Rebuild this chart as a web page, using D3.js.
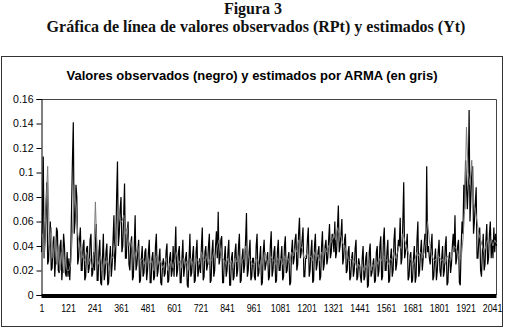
<!DOCTYPE html>
<html><head><meta charset="utf-8">
<script src="https://cdn.jsdelivr.net/npm/d3@7"></script>
<style>
html,body{margin:0;padding:0;background:#fff;}
svg{display:block;}
</style></head>
<body>
<script>
// ---- data ----
const figTitle = "Figura 3";
const figSubtitle = "Gráfica de línea de valores observados (RPt) y estimados (Yt)";
const chartTitle = "Valores observados (negro) y estimados por ARMA (en gris)";
const xTickLabels = [1,121,241,361,481,601,721,841,961,1081,1201,1321,1441,1561,1681,1801,1921,2041];
const yTickValues = [0,0.02,0.04,0.06,0.08,0.1,0.12,0.14,0.16];
const nObs = 2061;
// observed (black), one reading every 4 observations starting at t=1
const observed = [
0.035,0.06,0.113,0.03,0.045,0.07,0.092,0.025,0.028,0.05,0.06,0.02,0.022,0.04,0.048,0.015,0.03,0.055,0.052,0.02,0.018,0.04,0.045,0.012,0.025,0.05,0.04,0.018,0.015,0.035,
0.015,0.03,0.012,0.03,0.07,0.109,0.141,0.05,0.06,0.09,0.08,0.025,0.03,0.045,0.055,0.02,0.02,0.04,0.045,0.012,0.015,0.038,0.04,0.018,0.022,0.045,0.05,0.015,0.018,0.035,
0.02,0.04,0.058,0.012,0.012,0.035,0.045,0.01,0.008,0.03,0.05,0.012,0.018,0.035,0.042,0.008,0.01,0.03,0.04,0.015,0.025,0.045,0.065,0.02,0.035,0.08,0.109,0.04,0.05,0.07,
0.08,0.035,0.04,0.065,0.091,0.03,0.03,0.05,0.06,0.025,0.02,0.04,0.048,0.012,0.015,0.04,0.065,0.02,0.025,0.035,0.045,0.01,0.012,0.03,0.04,0.015,0.018,0.035,0.038,0.012,
0.02,0.035,0.045,0.01,0.01,0.03,0.035,0.012,0.015,0.04,0.05,0.015,0.02,0.03,0.038,0.01,0.008,0.025,0.03,0.015,0.018,0.035,0.042,0.01,0.012,0.03,0.035,0.015,0.02,0.04,
0.015,0.035,0.056,0.015,0.02,0.035,0.04,0.01,0.01,0.03,0.045,0.015,0.022,0.03,0.035,0.008,0.006,0.03,0.05,0.015,0.018,0.032,0.04,0.01,0.012,0.035,0.045,0.015,0.02,0.03,
0.018,0.04,0.055,0.012,0.015,0.035,0.04,0.02,0.025,0.04,0.05,0.01,0.012,0.035,0.045,0.015,0.02,0.04,0.052,0.03,0.068,0.025,0.03,0.045,0.048,0.01,0.01,0.03,0.04,0.015,
0.02,0.035,0.045,0.008,0.008,0.03,0.035,0.012,0.015,0.035,0.042,0.015,0.02,0.04,0.05,0.01,0.012,0.03,0.038,0.018,0.025,0.045,0.067,0.015,0.02,0.035,0.045,0.012,0.015,0.03,
0.03,0.015,0.012,0.04,0.05,0.015,0.018,0.03,0.04,0.008,0.01,0.035,0.045,0.02,0.025,0.03,0.035,0.012,0.015,0.04,0.052,0.015,0.02,0.035,0.04,0.01,0.012,0.035,0.045,0.02,
0.02,0.03,0.04,0.012,0.015,0.04,0.048,0.018,0.02,0.03,0.035,0.008,0.01,0.035,0.045,0.025,0.03,0.045,0.05,0.02,0.025,0.05,0.063,0.03,0.035,0.045,0.055,0.015,0.015,0.03,
0.03,0.045,0.055,0.015,0.02,0.035,0.045,0.01,0.012,0.04,0.05,0.02,0.025,0.035,0.04,0.012,0.015,0.04,0.052,0.02,0.025,0.04,0.045,0.025,0.03,0.045,0.058,0.03,0.035,0.05,
0.045,0.035,0.06,0.03,0.035,0.055,0.073,0.035,0.04,0.05,0.062,0.025,0.03,0.045,0.05,0.018,0.02,0.035,0.04,0.012,0.015,0.03,0.035,0.015,0.02,0.038,0.045,0.012,0.015,0.03,
0.025,0.015,0.01,0.03,0.04,0.012,0.015,0.03,0.035,0.006,0.008,0.035,0.042,0.015,0.018,0.025,0.03,0.01,0.012,0.035,0.04,0.015,0.02,0.04,0.048,0.012,0.015,0.045,0.055,0.02,
0.02,0.035,0.045,0.01,0.012,0.03,0.038,0.015,0.02,0.045,0.055,0.02,0.025,0.035,0.045,0.04,0.063,0.025,0.03,0.06,0.092,0.03,0.035,0.04,0.05,0.012,0.015,0.03,0.035,0.01,
0.012,0.03,0.04,0.01,0.015,0.045,0.06,0.015,0.02,0.035,0.045,0.02,0.03,0.04,0.05,0.03,0.105,0.035,0.04,0.03,0.025,0.04,0.05,0.012,0.015,0.03,0.038,0.012,0.02,0.035,
0.045,0.02,0.015,0.03,0.04,0.015,0.02,0.04,0.048,0.008,0.01,0.03,0.035,0.018,0.025,0.04,0.05,0.035,0.065,0.025,0.03,0.04,0.045,0.01,0.008,0.04,0.06,0.05,0.09,0.07,
0.11,0.09,0.07,0.09,0.151,0.06,0.08,0.1,0.105,0.05,0.06,0.075,0.088,0.03,0.03,0.045,0.055,0.02,0.015,0.035,0.05,0.02,0.025,0.045,0.058,0.025,0.03,0.05,0.06,0.03,
0.045,0.03,0.055,0.035,0.05,0.04
];
// estimated by ARMA (grey), one reading every 8 observations starting at t=5
const estimated = [
0.05,0.03,0.07,0.105,0.04,0.055,0.03,0.045,0.025,0.04,0.02,0.035,0.018,0.03,0.02,
0.02,0.025,0.05,0.09,0.07,0.05,0.04,0.035,0.03,0.028,0.035,0.025,0.03,0.022,0.028,
0.076,0.03,0.025,0.032,0.02,0.03,0.025,0.028,0.02,0.032,0.03,0.04,0.05,0.07,0.06,
0.06,0.065,0.05,0.055,0.04,0.045,0.035,0.03,0.035,0.04,0.03,0.028,0.03,0.025,0.028,
0.03,0.025,0.028,0.02,0.03,0.032,0.025,0.028,0.022,0.025,0.03,0.02,0.025,0.028,0.022,
0.03,0.035,0.025,0.028,0.022,0.03,0.025,0.028,0.02,0.03,0.026,0.024,0.03,0.028,0.025,
0.035,0.03,0.028,0.032,0.025,0.03,0.028,0.035,0.03,0.04,0.045,0.035,0.03,0.028,0.025,
0.03,0.025,0.028,0.022,0.03,0.027,0.032,0.025,0.028,0.03,0.04,0.035,0.03,0.028,0.025,
0.025,0.03,0.028,0.022,0.03,0.025,0.035,0.028,0.025,0.032,0.03,0.028,0.025,0.03,0.028,
0.03,0.025,0.032,0.028,0.03,0.026,0.035,0.032,0.038,0.035,0.045,0.04,0.038,0.03,0.032,
0.035,0.03,0.032,0.028,0.035,0.03,0.033,0.028,0.035,0.032,0.038,0.035,0.04,0.042,0.045,
0.05,0.045,0.055,0.05,0.048,0.042,0.04,0.035,0.03,0.028,0.03,0.025,0.028,0.022,0.025,
0.022,0.025,0.02,0.024,0.022,0.026,0.02,0.025,0.022,0.028,0.025,0.03,0.028,0.032,0.03,
0.028,0.025,0.03,0.028,0.035,0.03,0.035,0.04,0.038,0.05,0.045,0.04,0.035,0.03,0.028,
0.025,0.03,0.035,0.032,0.035,0.03,0.035,0.045,0.06,0.045,0.035,0.03,0.028,0.03,0.032,
0.03,0.028,0.03,0.025,0.032,0.03,0.028,0.035,0.04,0.038,0.035,0.03,0.03,0.045,0.07,
0.137,0.1,0.09,0.11,0.075,0.07,0.06,0.05,0.045,0.04,0.035,0.04,0.045,0.04,0.045,
0.04,0.045,0.042
];
const obsStart = 1, obsStep = 4, estStart = 5, estStep = 8;

// ---- drawing ----
const W = 506, H = 331;
const svg = d3.select("body").append("svg").attr("width", W).attr("height", H);

const serif = "'Liberation Serif','Times New Roman',serif";
const sans = "'Liberation Sans',Arial,sans-serif";

svg.append("text").attr("x", 253).attr("y", 14).attr("text-anchor","middle")
  .attr("font-family", serif).attr("font-weight","bold").attr("font-size", 16)
  .attr("fill","#111").text(figTitle);
svg.append("text").attr("x", 256).attr("y", 32).attr("text-anchor","middle")
  .attr("font-family", serif).attr("font-weight","bold").attr("font-size", 16)
  .attr("fill","#111").text(figSubtitle);

// outer chart box
svg.append("rect").attr("x", 1.5).attr("y", 56.5).attr("width", 501).attr("height", 270)
  .attr("fill","#fff").attr("stroke","#333").attr("stroke-width",1);

svg.append("text").attr("x", 252).attr("y", 80).attr("text-anchor","middle")
  .attr("font-family", sans).attr("font-weight","bold").attr("font-size", 13)
  .attr("fill","#000").text(chartTitle);

const pL = 41.5, pR = 496.5, pT = 99, pB = 295;
const x = d3.scaleLinear().domain([1, nObs]).range([pL, pR]);
const y = d3.scaleLinear().domain([0, 0.16]).range([pB, pT]);

// plot frame (top & right)
svg.append("path").attr("d", `M${pL},${pT+0.5}H${pR}V${pB}`)
  .attr("fill","none").attr("stroke","#444").attr("stroke-width",1);

// y axis
const yAxis = svg.append("g").attr("transform", `translate(${pL},0)`)
  .call(d3.axisLeft(y).tickValues(yTickValues).tickSize(5).tickPadding(3)
    .tickFormat(d => String(+d.toFixed(2))));
yAxis.select(".domain").attr("stroke","#000");
yAxis.selectAll(".tick line").attr("stroke","#000");
yAxis.selectAll("text").attr("font-family", sans).attr("font-size", 10.5).attr("fill","#000");

// series
const obsData = observed.map((v,i) => [obsStart + i*obsStep, v]);
const estData = estimated.map((v,i) => [estStart + i*estStep, v]);
const line = d3.line().x(d => x(d[0])).y(d => y(d[1]));

svg.append("path").datum(obsData).attr("d", line)
  .attr("fill","none").attr("stroke","#000").attr("stroke-width",1.2);
svg.append("path").datum(estData).attr("d", line)
  .attr("fill","none").attr("stroke","#7a7a7a").attr("stroke-width",1);

// x axis: dense category tick marks form a solid band
const xAxis = svg.append("g").attr("transform", `translate(0,${pB})`)
  .call(d3.axisBottom(x).tickValues(xTickLabels).tickSize(0).tickPadding(10)
    .tickFormat(d => String(d)));
xAxis.select(".domain").remove();
xAxis.selectAll("text").attr("font-family", sans).attr("font-size", 10).attr("fill","#000")
  .attr("textLength", d => String(d).length * 4.9).attr("lengthAdjust","spacingAndGlyphs");
svg.append("rect").attr("x", x(1)).attr("y", pB - 1).attr("width", x(nObs) - x(1)).attr("height", 4)
  .attr("fill","#000");
</script>
</body></html>
